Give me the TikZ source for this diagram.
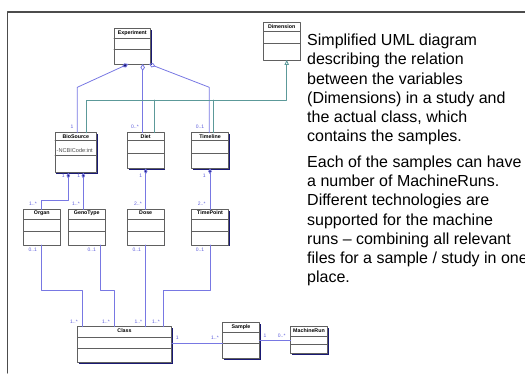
\documentclass[tikz,border=0pt]{standalone}
\usepackage{fontspec}
\setmainfont{Liberation Sans}
\usepackage{tikz}
\usetikzlibrary{arrows,arrows.meta,shadows}
\definecolor{uuuuee}{rgb}{0.47,0.47,0.89}
\definecolor{ttttdd}{rgb}{0.36,0.36,0.86}
\definecolor{qqqqtt}{rgb}{0.1,0.1,0.45}
\definecolor{ggtttt}{rgb}{0.36,0.6,0.6}
\definecolor{frgray}{rgb}{0.3,0.3,0.3}
\tikzset{
  umlbox/.style={draw=gray!75!black,line width=0.6pt,fill=white,inner sep=0pt,outer sep=0pt,
    drop shadow={shadow xshift=1.3pt,shadow yshift=-1.3pt,fill=qqqqtt,opacity=1}},
  umlsep/.style={draw=gray!75!black,line width=0.5pt},
  umltitle/.style={inner sep=0pt,text height=3.8pt,text depth=1.1pt,font=\fontsize{5.3}{6}\selectfont\bfseries},
  mult/.style={inner sep=0pt,text=ttttdd,font=\fontsize{5}{6}\selectfont},
  assoc/.style={draw=uuuuee,line width=0.8pt},
  gen/.style={draw=ggtttt,line width=0.8pt},
  comp/.tip={Diamond[fill=qqqqtt,length=6pt,width=3.6pt]}
}
% name, cx, cy, width, height, first sep, second sep, title
\newcommand{\umlclass}[8]{%
  \node[umlbox,minimum width=#4pt,minimum height=#5pt] (#1) at (#2,#3) {};
  \draw[umlsep] ([yshift=-#6pt]#1.north west) -- ([yshift=-#6pt]#1.north east);
  \draw[umlsep] ([yshift=-#7pt]#1.north west) -- ([yshift=-#7pt]#1.north east);
  \node[umltitle] (#1-t) at ([yshift=-4pt]#1.north) {#8};
}

\begin{document}
\begin{tikzpicture}[line cap=round,line join=round,x=1pt,y=-1pt]
\useasboundingbox (0,0) rectangle (525,373);
% frame
\draw [frgray,line width=1.2pt] (525,12) -- (7.5,12) -- (7.5,373);
% classes
\umlclass{exp}{132.3}{46.3}{36.7}{35.3}{9.3}{20.3}{Experiment}
\umlclass{dim}{281.7}{41.3}{36.7}{37.3}{9}{20.6}{Dimension}
\umlclass{bio}{75.8}{152.7}{41.7}{40}{7.3}{22.3}{BioSource}
\umlclass{diet}{145.7}{150.5}{36.7}{35.6}{7.3}{20.6}{Diet}
\umlclass{tl}{210}{150.5}{36.7}{35.6}{7.3}{20.6}{Timeline}
\umlclass{organ}{41.7}{227.2}{36.7}{35.7}{10}{21.4}{Organ}
\umlclass{geno}{86.7}{227.2}{36.7}{35.7}{10}{21.4}{GenoType}
\umlclass{dose}{145.7}{227.2}{36.7}{35.7}{10}{21.4}{Dose}
\umlclass{tp}{210}{227.2}{36.7}{35.7}{10}{21.4}{TimePoint}
\umlclass{cls}{124.5}{344.7}{94.4}{36}{10.6}{21.6}{Class}
\umlclass{smp}{241}{340.5}{36.6}{35.6}{10}{20.6}{Sample}
\umlclass{mrun}{309}{340}{36.6}{26.6}{9.3}{17.3}{MachineRun}
\node[anchor=west,inner sep=0pt,text=gray!60!black,font=\fontsize{5.6}{6}\selectfont] (bioattr) at ([xshift=1.5pt,yshift=2pt]bio.west) {-NCBICode:int};
% Experiment to its dimensions
\coordinate (bendbio) at (77.3,87.3);
\coordinate (bendtl) at (209.3,87.3);
\draw [assoc,{Diamond[fill=qqqqtt,length=7pt,width=4.5pt]}-] ([xshift=-4pt]exp.south) -- (bendbio) -- (bendbio |- bio.north);
\draw [assoc,{Diamond[open,length=7pt,width=4.5pt]}-] ([xshift=10.4pt]exp.south) -- ([xshift=10.4pt]exp.south |- diet.north);
\draw [assoc,{Diamond[open,length=7pt,width=4.5pt]}-] ([xshift=16.7pt]exp.south) -- (bendtl) -- (bendtl |- tl.north);
% generalisation to Dimension
\coordinate (genbus) at (286.7,100);
\draw [gen,-{Triangle[open,length=5pt,width=4.5pt]}] ([xshift=11pt]bio.north) |- (genbus) -- (genbus |- dim.south);
\draw [gen] ([xshift=8.3pt]diet.north) -- ([xshift=8.3pt]diet.north |- genbus);
\draw [gen] ([xshift=3.3pt]tl.north) -- ([xshift=3.3pt]tl.north |- genbus);
% compositions
\draw [assoc,comp-] ([xshift=-7.5pt]bio.south) -- ++(0,28) -| (organ.north);
\draw [assoc,comp-] ([xshift=7.5pt]bio.south) -- ([xshift=7.5pt]bio.south |- geno.north);
\draw [assoc,comp-] (diet.south) -- (dose.north);
\draw [assoc,comp-] (tl.south) -- (tp.north);
% to Class
\draw [assoc] (organ.south) -- ++(0,45) -| ([xshift=-42.2pt]cls.north);
\draw [assoc] ([xshift=13.3pt]geno.south) -- ++(0,45) -| ([xshift=-10.5pt]cls.north);
\draw [assoc] (dose.south) -- (dose.south |- cls.north);
\draw [assoc] (tp.south) -- ++(0,45) -| ([xshift=38.8pt]cls.north);
\draw [assoc] ([yshift=1.4pt]cls.east) -- ([yshift=1.4pt]cls.east -| smp.west);
\draw [assoc] (smp.east) -- (smp.east -| mrun.west);
% multiplicities
\node[mult] (m1) at (72,126.5) {1};
\node[mult] (m2) at (135,126.5) {0..*};
\node[mult] (m3) at (200,126.5) {0..1};
\node[mult] (m4) at (63.3,175.5) {1};
\node[mult] (m5) at (78.7,175.5) {1};
\node[mult] (m6) at (140.7,175.5) {1};
\node[mult] (m7) at (204.3,175.5) {1};
\node[mult] (m8) at (33,204) {1..*};
\node[mult] (m9) at (76,204) {1..*};
\node[mult] (m10) at (138,204) {2..*};
\node[mult] (m11) at (201.7,204) {2..*};
\node[mult] (m12) at (32.7,250) {0..1};
\node[mult] (m13) at (91.7,250) {0..1};
\node[mult] (m14) at (136.7,250) {0..1};
\node[mult] (m15) at (200,250) {0..1};
\node[mult] (m16) at (74,321.7) {1..*};
\node[mult] (m17) at (106,321.7) {1..*};
\node[mult] (m18) at (138.3,321.7) {1..*};
\node[mult] (m19) at (156,321.7) {1..*};
\node[mult] (m20) at (177.3,337.7) {1};
\node[mult] (m21) at (215,337.7) {1..*};
\node[mult] (m22) at (265,335.7) {1};
\node[mult] (m23) at (281.7,335.7) {0..*};
% description
\node[anchor=north west,inner sep=0pt,align=left,font=\fontsize{16}{19.2}\selectfont] (desc1) at (307,33.9)
  {Simplified UML diagram\\describing the relation\\between the variables\\(Dimensions) in a study and\\the actual class, which\\contains the samples.};
\node[anchor=north west,inner sep=0pt,align=left,font=\fontsize{16}{19.2}\selectfont] (desc2) at (307,155.6)
  {Each of the samples can have\\a number of MachineRuns.\\Different technologies are\\supported for the machine\\runs -- combining all relevant\\files for a sample / study in one\\place.};
\end{tikzpicture}
\end{document}
